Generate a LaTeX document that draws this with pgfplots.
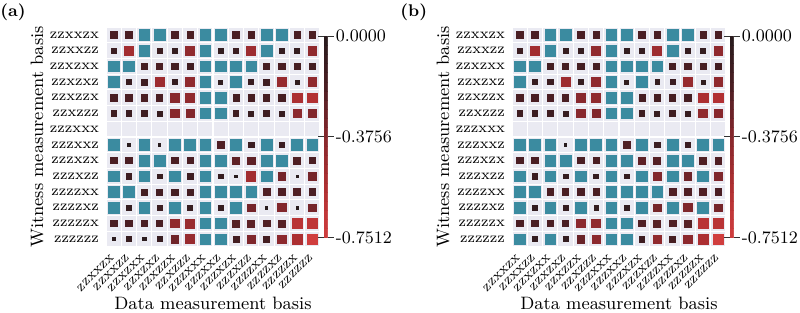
\documentclass[border=0pt]{standalone}
\usepackage{pgfplots}
\pgfplotsset{compat=1.18}
\usepackage{pgfplotstable}

\definecolor{bggray}{RGB}{234,234,242}
\definecolor{tealc}{RGB}{59,139,160}

\pgfplotsset{colormap={redmap}{rgb255=(208,62,62) rgb255=(175,48,50) rgb255=(135,40,45) rgb255=(75,30,35) rgb255=(40,28,30)}}

\pgfplotstableread{
r c0 c1 c2 c3 c4 c5 c6 c7 c8 c9 c10 c11 c12 c13
0 -0.18 -0.18 1 1 -0.18 -0.18 1 1 -0.18 -0.18 1 1 -0.18 -0.18
1 -0.1 -0.5 1 -0.1 -0.07 -0.42 1 -0.06 -0.1 -0.48 1 -0.07 -0.07 -0.42
2 1 1 -0.15 -0.18 -0.15 -0.13 1 1 1 1 -0.16 -0.18 -0.16 -0.15
3 1 -0.09 -0.12 -0.48 -0.07 -0.42 1 -0.05 1 -0.09 -0.12 -0.45 -0.05 -0.42
4 -0.18 -0.18 -0.18 -0.18 -0.38 -0.42 1 1 -0.16 -0.16 -0.16 -0.16 -0.55 -0.58
5 -0.12 -0.1 -0.12 -0.08 -0.38 -0.36 1 1 -0.12 -0.08 -0.12 -0.08 -0.4 -0.36
6 0 0 0 0 0 0 0 0 0 0 0 0 0 0
7 1 -0.005 1 -0.005 1 1 1 -0.2 1 -0.1 1 -0.1 1 1
8 -0.18 -0.18 1 1 -0.18 -0.18 1 1 -0.25 -0.25 1 1 -0.2 -0.18
9 1 -0.12 1 -0.08 1 -0.12 1 -0.08 -0.005 -0.5 1 -0.32 -0.005 -0.32
10 1 1 -0.15 -0.15 -0.15 -0.15 1 1 1 1 -0.2 -0.2 -0.2 -0.18
11 1 -0.07 1 -0.1 1 -0.08 1 -0.07 1 -0.32 -0.005 -0.36 -0.005 -0.32
12 -0.18 -0.18 -0.18 -0.18 -0.42 -0.46 1 1 -0.22 -0.24 -0.2 -0.22 -0.62 -0.65
13 -0.02 -0.08 -0.02 -0.08 -0.3 -0.45 1 1 -0.15 -0.35 -0.15 -0.4 -0.55 -0.7512
}\dataA

\pgfplotstableread{
r c0 c1 c2 c3 c4 c5 c6 c7 c8 c9 c10 c11 c12 c13
0 -0.18 -0.18 1 1 -0.18 -0.18 1 1 -0.18 -0.18 1 1 -0.18 -0.18
1 -0.1 -0.5 1 -0.08 -0.07 -0.42 1 -0.06 -0.07 -0.48 1 -0.07 -0.07 -0.42
2 1 1 -0.15 -0.15 -0.15 -0.15 1 1 1 1 -0.16 -0.18 -0.16 -0.15
3 1 -0.08 -0.1 -0.48 -0.07 -0.42 1 -0.05 1 -0.07 -0.1 -0.45 -0.05 -0.42
4 -0.18 -0.18 -0.18 -0.18 -0.38 -0.42 1 1 -0.16 -0.16 -0.16 -0.16 -0.55 -0.58
5 -0.12 -0.1 -0.12 -0.08 -0.38 -0.36 1 1 -0.12 -0.08 -0.12 -0.08 -0.42 -0.38
6 0 0 0 0 0 0 0 0 0 0 0 0 0 0
7 1 1 1 -0.005 1 1 1 -0.2 1 -0.1 1 -0.1 1 1
8 -0.18 -0.18 1 1 -0.18 -0.18 1 1 -0.25 -0.22 1 1 -0.2 -0.2
9 1 -0.1 1 -0.07 1 -0.07 1 -0.07 1 -0.36 1 -0.3 1 -0.35
10 1 1 -0.18 -0.18 -0.18 -0.18 1 1 1 1 -0.2 -0.2 -0.2 -0.18
11 1 -0.06 1 -0.07 1 -0.06 1 -0.06 1 -0.32 1 -0.35 1 -0.32
12 -0.18 -0.18 -0.18 -0.18 -0.4 -0.42 1 1 -0.2 -0.22 -0.2 -0.22 -0.62 -0.62
13 1 -0.07 1 -0.07 -0.28 -0.4 1 1 -0.12 -0.42 -0.16 -0.4 -0.55 -0.7512
}\dataB

\pgfplotsset{
 panel/.style={
  scale only axis, width=107bp, height=110bp,
  xmin=-0.5, xmax=13.5, ymin=-0.5, ymax=13.5, y dir=reverse,
  axis background/.style={fill=bggray},
  axis line style={draw=none},
  xtick={0,...,13}, ytick={0,...,13},
  xticklabels={zzxxzx,zzxxzz,zzxzxx,zzxzxz,zzxzzx,zzxzzz,zzzxxx,zzzxxz,zzzxzx,zzzxzz,zzzzxx,zzzzxz,zzzzzx,zzzzzz},
  yticklabels={zzxxzx,zzxxzz,zzxzxx,zzxzxz,zzxzzx,zzxzzz,zzzxxx,zzzxxz,zzzxzx,zzzxzz,zzzzxx,zzzzxz,zzzzzx,zzzzzz},
  minor xtick={-0.5,0.5,...,13.5}, minor ytick={-0.5,0.5,...,13.5},
  xminorgrids=true, yminorgrids=true,
  minor grid style={white, line width=0.6bp},
  major tick length=0pt, minor tick length=0pt,
  yticklabel style={font=\fontsize{7.4}{8}\selectfont},
  xticklabel style={font=\fontsize{7.2}{8}\selectfont, rotate=45, anchor=north east, inner sep=0bp, xshift=-3.5bp, yshift=-1bp},
  xlabel={Data measurement basis}, ylabel={Witness measurement basis},
  label style={font=\fontsize{9}{10}\selectfont},
  xlabel style={at={(axis description cs:0.5,-0.282)}, anchor=base},
  ylabel style={at={(axis description cs:-0.294,0.5)}, anchor=base},
  colormap name=redmap, point meta min=-0.7512, point meta max=0,
  colorbar, colorbar sampled,
  colorbar shift/.style={xshift=2bp},
  colorbar style={
    at={(parent axis.east)}, anchor=west,
    scale only axis, width=1.75bp, height=101bp,
    y dir=normal,
    ytick={-0.7512,-0.3756,0}, yticklabels={-0.7512,-0.3756,0.0000},
    minor ytick={}, minor xtick={}, xtick=\empty,
    xminorgrids=false, yminorgrids=false,
    xlabel={}, ylabel={},
    axis line style={draw=none},
    axis background/.style={},
    ytick align=outside,
    major tick length=3bp,
    ytick style={draw=black!80, line width=0.5bp},
    yticklabel style={font=\fontsize{8.8}{10}\selectfont, rotate=0, anchor=west, inner sep=1bp, xshift=0bp, yshift=0bp},
    samples=23,
  },
 }
}

\begin{document}
\begin{tikzpicture}
\path[use as bounding box] (0,0) rectangle (400bp,156.5bp);
\node[anchor=north west, inner sep=0pt, font=\bfseries\fontsize{8.5}{10}\selectfont] at (0bp,155bp) {(a)};
\node[anchor=north west, inner sep=0pt, font=\bfseries\fontsize{8.5}{10}\selectfont] at (200bp,155bp) {(b)};

\begin{axis}[panel, at={(53bp,33bp)}, anchor=south west]
\pgfplotsinvokeforeach{0,...,13}{
 \addplot[only marks, mark=square*, line width=0.3bp, mark options={draw=tealc, fill=tealc, line width=0.3bp}, mark size=2.65bp,
   restrict expr to domain={\thisrow{c#1}}{0.5:2}] table[x expr=#1, y=r] {\dataA};
 \addplot[scatter, only marks, mark=square*, line width=0.3bp, point meta=\thisrow{c#1},
   restrict expr to domain={\thisrow{c#1}}{-1:-0.0001},
   scatter/use mapped color={draw=mapped color, fill=mapped color, line width=0.3bp},
   visualization depends on={0.25+2.4*(abs(\thisrow{c#1})/0.7512)^0.4 \as \msize},
   scatter/@pre marker code/.append style={/tikz/mark size={\msize*1bp}}] table[x expr=#1, y=r] {\dataA};
}
\end{axis}

\begin{axis}[panel, at={(256bp,33bp)}, anchor=south west]
\pgfplotsinvokeforeach{0,...,13}{
 \addplot[only marks, mark=square*, line width=0.3bp, mark options={draw=tealc, fill=tealc, line width=0.3bp}, mark size=2.65bp,
   restrict expr to domain={\thisrow{c#1}}{0.5:2}] table[x expr=#1, y=r] {\dataB};
 \addplot[scatter, only marks, mark=square*, line width=0.3bp, point meta=\thisrow{c#1},
   restrict expr to domain={\thisrow{c#1}}{-1:-0.0001},
   scatter/use mapped color={draw=mapped color, fill=mapped color, line width=0.3bp},
   visualization depends on={0.25+2.4*(abs(\thisrow{c#1})/0.7512)^0.4 \as \msize},
   scatter/@pre marker code/.append style={/tikz/mark size={\msize*1bp}}] table[x expr=#1, y=r] {\dataB};
}
\end{axis}
\end{tikzpicture}
\end{document}
